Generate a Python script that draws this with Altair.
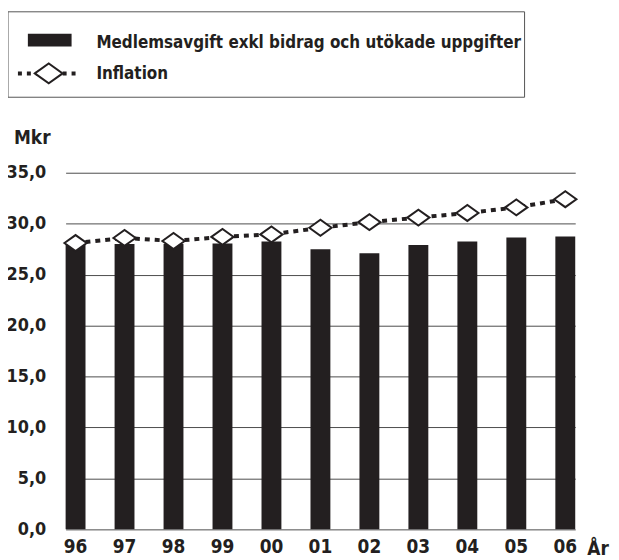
import altair as alt
import pandas as pd

years = ["96", "97", "98", "99", "00", "01", "02", "03", "04", "05", "06"]
members = [28.0, 28.0, 28.0, 28.05, 28.25, 27.5, 27.1, 27.9, 28.25, 28.65, 28.75]
inflation = [28.1, 28.6, 28.3, 28.7, 28.95, 29.6, 30.15, 30.6, 31.05, 31.6, 32.4]
y_ticks = [0, 5, 10, 15, 20, 25, 30, 35]

bar_label = "Medlemsavgift exkl bidrag och utökade uppgifter"
line_label = "Inflation"

df = pd.DataFrame({"year": years, "members": members, "inflation": inflation})

FONT = "DejaVu Sans Condensed"
WEIGHT = "bold"
INK = "#231f20"
DIAMOND = "M-1.4,0L0,-1L1.4,0L0,1Z"

xscale = alt.Scale(range=[14, 527], paddingInner=0.594, paddingOuter=0)
yscale = alt.Scale(domain=[0, 35], nice=False)

xaxis = alt.Axis(title=None, labelAngle=0, domain=False, ticks=False, labelFontSize=19,
                 labelPadding=8, labelColor=INK, grid=False, labelFont=FONT,
                 labelFontWeight=WEIGHT)
yaxis = alt.Axis(title=None, values=y_ticks, domain=False, ticks=False, labelFontSize=18,
                 labelPadding=6, labelColor=INK, grid=True, gridColor="#4d4d4d",
                 gridWidth=1, labelFont=FONT, labelFontWeight=WEIGHT,
                 labelExpr="replace(format(datum.value, '.1f'), '.', ',')")

base = alt.Chart(df)

bars = base.mark_bar(color=INK).encode(
    x=alt.X("year:N", sort=years, scale=xscale, axis=xaxis),
    y=alt.Y("members:Q", scale=yscale, axis=yaxis),
)

line = base.mark_line(color=INK, strokeWidth=4, strokeDash=[5, 5]).encode(
    x=alt.X("year:N", sort=years),
    y=alt.Y("inflation:Q"),
)

points = base.mark_point(shape=DIAMOND, size=256, filled=True, fill="white",
                         stroke=INK, strokeWidth=2, opacity=1).encode(
    x=alt.X("year:N", sort=years),
    y=alt.Y("inflation:Q"),
)

one = alt.Data(values=[{"k": 1}])

legend_box = alt.Chart(one).mark_rect(fill="white", fillOpacity=0, stroke="#555555",
                                      strokeWidth=1).encode(
    x=alt.value(-44), x2=alt.value(476), y=alt.value(-162), y2=alt.value(-76))

legend_swatch = alt.Chart(one).mark_rect(color=INK).encode(
    x=alt.value(-24), x2=alt.value(20), y=alt.value(-140), y2=alt.value(-127))

legend_text1 = alt.Chart(one).mark_text(align="left", baseline="alphabetic", fontSize=17,
                                        font=FONT, fontWeight=WEIGHT, color=INK,
                                        text=bar_label).encode(
    x=alt.value(45), y=alt.value(-126))

legend_rule = alt.Chart(one).mark_rule(color=INK, strokeWidth=4, strokeDash=[4, 5]).encode(
    x=alt.value(-34), x2=alt.value(28), y=alt.value(-100))

legend_diamond = alt.Chart(one).mark_point(shape=DIAMOND, size=400, filled=True, fill="white",
                                           stroke=INK, strokeWidth=2, opacity=1).encode(
    x=alt.value(-3), y=alt.value(-100))

legend_text2 = alt.Chart(one).mark_text(align="left", baseline="alphabetic", fontSize=17,
                                        font=FONT, fontWeight=WEIGHT, color=INK,
                                        text=line_label).encode(
    x=alt.value(45), y=alt.value(-94))

mkr = alt.Chart(one).mark_text(align="left", baseline="alphabetic", fontSize=19,
                               font=FONT, fontWeight=WEIGHT, color=INK, text="Mkr").encode(
    x=alt.value(-38), y=alt.value(-29))

ar = alt.Chart(one).mark_text(align="center", baseline="alphabetic", fontSize=19,
                              font=FONT, fontWeight=WEIGHT, color=INK, text="År").encode(
    x=alt.value(550), y=alt.value(385))

chart = alt.layer(
    bars, line, points,
    legend_box, legend_swatch, legend_text1, legend_rule, legend_diamond, legend_text2,
    mkr, ar,
).properties(
    width=533, height=359,
    autosize=alt.AutoSizeParams(type="none"),
    padding={"left": 44, "top": 164, "right": 30, "bottom": 28},
).configure(background="white").configure_view(stroke=None)

chart.save("out.html", embed_options={"renderer": "svg", "actions": False})
